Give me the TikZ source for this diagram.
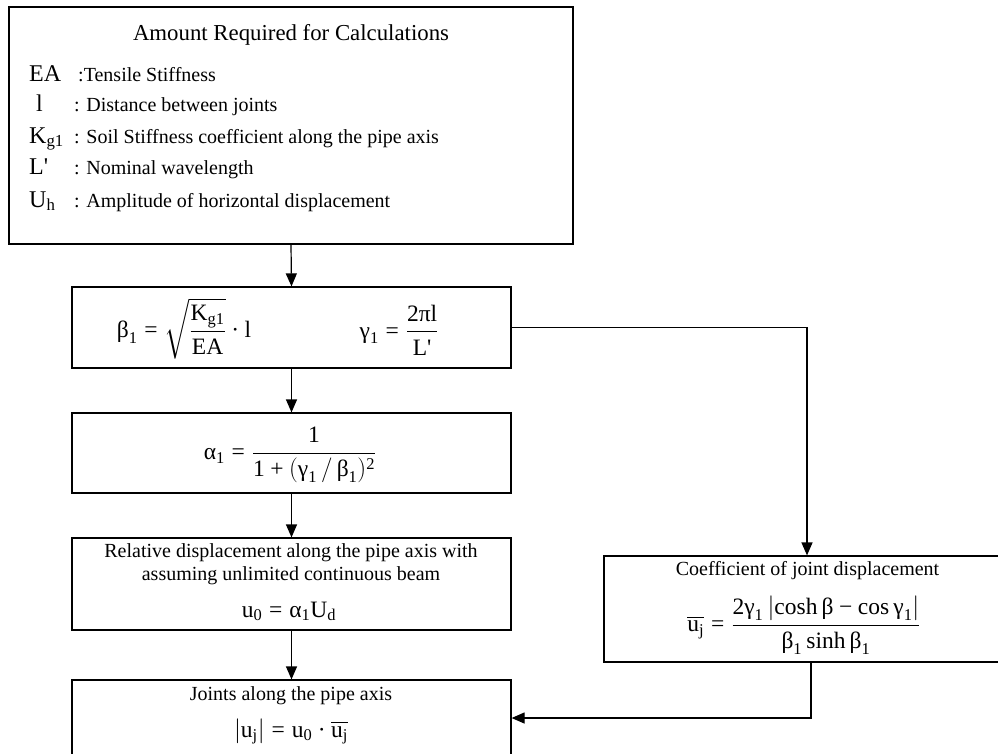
\documentclass[tikz,border=0pt]{standalone}
\usepackage{amsmath}
\usepackage{fontspec}
\setmainfont{Liberation Serif}
\usetikzlibrary{arrows.meta,calc}
\newcommand\tx[1]{\text{#1}}
\newcommand\eqs{\mathrel{\tx{=}}}
\newcommand\pls{\mathbin{\tx{+}}}
\newcommand\mns{\mathbin{\tx{−}}}
\newcommand\dt{\mathbin{\tx{·}}}
\newcommand\prm{\textquotesingle}
\newcommand\fsT{\fontsize{20}{24}\selectfont}
\newcommand\fsM{\fontsize{23.5}{28}\selectfont}
\newcommand\fsS{\fontsize{24}{28}\selectfont}
\tikzset{
  boxnode/.style={draw, line width=1.2pt, rectangle, inner sep=0pt},
  txt/.style={inner sep=0pt, font=\fsT},
  mth/.style={inner sep=0pt, font=\fsM},
  sym/.style={inner sep=0pt, font=\fsS, anchor=base west},
  desc/.style={inner sep=0pt, font=\fsT, anchor=base west},
  arr/.style={line width=1.2pt, -{Triangle[length=13pt,width=11pt]}},
  ln/.style={line width=1.2pt}
}
\begin{document}
\begin{tikzpicture}[x=1pt,y=-1pt]
\useasboundingbox (0,0) rectangle (998,753);
\clip (0,0) rectangle (998,753);
% boxes
\node[boxnode, minimum width=564pt, minimum height=237pt] (top) at (291,125.5) {};
\node[boxnode, minimum width=439pt, minimum height=81pt] (b2) at (291.5,327.5) {};
\node[boxnode, minimum width=439pt, minimum height=80pt] (b3) at (291.5,453) {};
\node[boxnode, minimum width=439pt, minimum height=92pt] (b4) at (291.5,584) {};
\node[boxnode, minimum width=439pt, minimum height=90pt] (b5) at (291.5,725) {};
\node[boxnode, minimum width=420pt, minimum height=106pt] (rb) at (814,609) {};
% top box text
\node[txt, font=\fontsize{22.8}{27}\selectfont, anchor=base] (title) at (291,40) {Amount Required for Calculations};
\node[sym] (s1) at (29,81) {EA};
\node[desc] (d1) at (78,81) {:Tensile Stiffness};
\node[sym] (s2) at (36,111) {l};
\node[desc] (d2) at (74,111) {: Distance between joints};
\node[sym] (s3) at (29,143) {$\tx{K}_{\tx{g1}}$};
\node[desc] (d3) at (74,143) {: Soil Stiffness coefficient along the pipe axis};
\node[sym] (s4) at (29,174) {L\prm};
\node[desc] (d4) at (74,174) {: Nominal wavelength};
\node[sym] (s5) at (29,207) {$\tx{U}_{\tx{h}}$};
\node[desc] (d5) at (74,207) {: Amplitude of horizontal displacement};
% box 2
\node[mth] (beta) at (184,328.5) {$\tx{β}_{\tx{1}} \eqs \sqrt{\dfrac{\tx{K}_{\tx{g1}}}{\tx{EA}}}\dt\tx{l}$};
\node[mth] (gamma) at (399,330) {$\tx{γ}_{\tx{1}} \eqs \dfrac{\tx{2πl}}{\tx{L\prm}}$};
% box 3
\node[mth] (alpha) at (290,455) {$\tx{α}_{\tx{1}} \eqs \dfrac{\tx{1}}{\tx{1}\pls(\tx{γ}_{\tx{1}}\,/\,\tx{β}_{\tx{1}})^{\tx{2}}}$};
% box 4
\node[txt, anchor=base] (r1) at (291,557) {Relative displacement along the pipe axis with};
\node[txt, anchor=base] (r2) at (291,580) {assuming unlimited continuous beam};
\node[mth, anchor=base] (u0) at (289,617) {$\tx{u}_{\tx{0}} \eqs \tx{α}_{\tx{1}}\tx{U}_{\tx{d}}$};
% box 5
\node[txt, anchor=base] (j1) at (291,700) {Joints along the pipe axis};
\node[mth, anchor=base] (j2) at (291,737) {$\left|\tx{u}_{\tx{j}}\right| \eqs \tx{u}_{\tx{0}}\dt\overline{\tx{u}_{\tx{j}}}$};
% right box
\node[txt, anchor=base] (c1t) at (807.5,575) {Coefficient of joint displacement};
\node[mth] (ceq) at (804,625) {$\overline{\tx{u}_{\tx{j}}} \eqs \dfrac{\tx{2γ}_{\tx{1}}\left|\tx{cosh}\,\tx{β}\mns\tx{cos}\,\tx{γ}_{\tx{1}}\right|}{\tx{β}_{\tx{1}}\,\tx{sinh}\,\tx{β}_{\tx{1}}}$};
% connectors
\draw[arr] (top.south) -- (b2.north);
\draw[arr] (b2.south) -- (b3.north);
\draw[arr] (b3.south) -- (b4.north);
\draw[arr] (b4.south) -- (b5.north);
\coordinate (k1) at (807,327.5);
\draw[arr] (b2.east) -- (k1) -- (k1 |- rb.north);
\coordinate (k2) at (811,718);
\draw[arr] (k2 |- rb.south) -- (k2) -- (k2 -| b5.east);
\end{tikzpicture}
\end{document}
